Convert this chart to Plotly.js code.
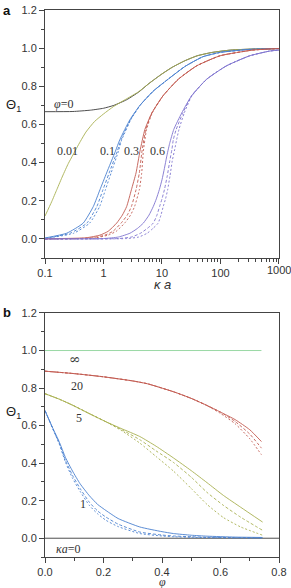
<!DOCTYPE html>
<html><head><meta charset="utf-8">
<script src="https://cdn.plot.ly/plotly-3.0.1.min.js"></script>
<style>body{margin:0;background:#fff}#c{width:291px;height:588px}</style>
</head><body><div id="c"></div>
<script>
// ---------- panel a : Theta_1 vs kappa a ----------
const kaPhi0 = [0.1,0.3,0.6,1,1.5,2.5,4,6,10,15,25,40,70,150,400,1000];
const thPhi0 = [0.667,0.668,0.675,0.685,0.70,0.73,0.77,0.815,0.865,0.90,0.935,0.96,0.977,0.99,0.996,0.998];

const kaPhi001 = [0.1,0.13,0.16,0.2,0.25,0.3,0.4,0.5,0.7,1,1.5,2.5,4,6,10,15,25,40,70,150,400,1000];
const thPhi001 = [0.12,0.195,0.26,0.33,0.395,0.44,0.51,0.56,0.615,0.655,0.695,0.735,0.772,0.815,0.865,0.90,0.935,0.96,0.977,0.99,0.996,0.998];

const kaPhi01 = [0.1,0.235,0.45,0.67,0.87,1.13,1.6,1.9,2.84,4.2,7.1,13.7,25,50,100,300,1000];
const thPhi01 = [0.005,0.03,0.083,0.17,0.258,0.346,0.46,0.52,0.626,0.70,0.775,0.845,0.905,0.955,0.978,0.993,0.998];
const kaPhi01d1 = [0.1,0.27,0.52,0.77,0.98,1.25,1.72,2.0,2.9,4.2,7.1,13.7,25,50,100,300,1000];
const thPhi01d1 = [0.003,0.03,0.083,0.17,0.258,0.346,0.46,0.52,0.626,0.70,0.775,0.845,0.905,0.955,0.978,0.993,0.998];
const kaPhi01d2 = [0.1,0.31,0.58,0.86,1.08,1.35,1.8,2.05,2.95,4.2,7.1,13.7,25,50,100,300,1000];
const thPhi01d2 = [0.002,0.03,0.083,0.17,0.258,0.346,0.46,0.52,0.626,0.70,0.775,0.845,0.905,0.955,0.978,0.993,0.998];

const kaPhi03 = [0.1,0.5,0.87,1.2,1.68,2.1,2.49,3.0,3.6,4.2,5.1,6.7,10.4,19,39,98,360,1000];
const thPhi03 = [0.001,0.006,0.02,0.04,0.083,0.125,0.17,0.258,0.346,0.46,0.574,0.66,0.75,0.837,0.907,0.96,0.99,0.998];
const kaPhi03d1 = [0.1,0.6,1.05,1.45,2.0,2.55,3.0,3.6,4.1,4.55,5.3,6.7,10.4,19,39,98,360,1000];
const thPhi03d1 = [0.0,0.005,0.02,0.04,0.083,0.125,0.17,0.258,0.346,0.46,0.574,0.66,0.75,0.837,0.907,0.96,0.99,0.998];
const kaPhi03d2 = [0.1,0.7,1.2,1.65,2.3,2.9,3.4,4.1,4.5,4.8,5.45,6.8,10.4,19,39,98,360,1000];
const thPhi03d2 = [0.0,0.005,0.02,0.04,0.083,0.125,0.17,0.258,0.346,0.46,0.574,0.66,0.75,0.837,0.907,0.96,0.99,0.998];

const kaPhi06 = [0.1,1,1.8,2.84,3.8,4.8,6,7.1,8,9,10,11,12,13.5,15.9,21.7,32,58,126,316,700,1000];
const thPhi06 = [0.0,0.002,0.01,0.03,0.055,0.083,0.125,0.17,0.21,0.258,0.31,0.37,0.43,0.50,0.574,0.66,0.75,0.837,0.907,0.96,0.985,0.99];
const kaPhi06d1 = [0.1,1.8,3,4.3,5.6,7.1,8.2,9.1,10,11,12.3,13.6,14.8,15.6,17.5,22.7,32,58,126,316,700,1000];
const thPhi06d1 = [0.0,0.002,0.01,0.03,0.055,0.083,0.125,0.17,0.21,0.258,0.33,0.41,0.47,0.52,0.574,0.66,0.75,0.837,0.907,0.96,0.985,0.99];
const kaPhi06d2 = [0.1,2.5,4,5.6,7,8.6,9.6,10.5,11.5,12.5,13.7,15,16.5,17.8,19.5,24,32.5,58,126,316,700,1000];
const thPhi06d2 = [0.0,0.002,0.01,0.03,0.055,0.083,0.125,0.17,0.21,0.258,0.33,0.41,0.47,0.52,0.574,0.66,0.75,0.837,0.907,0.96,0.985,0.99];

const kaTickVals = [0.1,1,10,100,1000];
const kaTickText = ['0.1','1','10','100','1000'];
const kaMinorVals = [0.2,0.3,0.4,0.5,0.6,0.7,0.8,0.9,2,3,4,5,6,7,8,9,20,30,40,50,60,70,80,90,200,300,400,500,600,700,800,900];

// ---------- panel b : Theta_1 vs phi ----------
const phiInf = [0,0.74];      const thInf = [1,1];
const phiKa0 = [0,0.8];       const thKa0 = [0,0];

const phiKa20 = [0,0.1,0.2,0.3,0.35,0.44,0.5,0.55,0.6,0.65,0.7,0.74];
const thKa20  = [0.89,0.877,0.86,0.838,0.823,0.78,0.745,0.71,0.672,0.632,0.578,0.515];
const thKa20d1 = [0.89,0.877,0.86,0.838,0.823,0.78,0.745,0.71,0.672,0.622,0.555,0.48];
const thKa20d2 = [0.89,0.877,0.86,0.838,0.823,0.78,0.745,0.71,0.665,0.61,0.53,0.445];

const phiKa5 = [0,0.05,0.094,0.15,0.209,0.26,0.324,0.38,0.439,0.5,0.554,0.61,0.669,0.744];
const thKa5   = [0.77,0.74,0.709,0.665,0.62,0.585,0.542,0.49,0.428,0.36,0.296,0.228,0.165,0.086];
const thKa5d1 = [0.77,0.74,0.709,0.665,0.62,0.58,0.525,0.465,0.404,0.325,0.244,0.175,0.112,0.042];
const thKa5d2 = [0.77,0.74,0.709,0.665,0.62,0.575,0.507,0.435,0.358,0.265,0.18,0.11,0.06,0.016];

const phiKa1 = [0,0.014,0.03,0.048,0.07,0.094,0.12,0.152,0.18,0.209,0.25,0.324,0.4,0.439,0.5,0.554,0.65,0.744];
const thKa1   = [0.68,0.63,0.575,0.516,0.43,0.358,0.29,0.226,0.18,0.147,0.105,0.06,0.035,0.025,0.016,0.011,0.006,0.004];
const thKa1d1 = [0.68,0.63,0.572,0.51,0.415,0.335,0.265,0.191,0.145,0.112,0.075,0.033,0.017,0.012,0.008,0.005,0.003,0.002];
const thKa1d2 = [0.68,0.63,0.57,0.505,0.405,0.32,0.25,0.174,0.13,0.095,0.062,0.025,0.012,0.008,0.005,0.003,0.002,0.001];

const cBlack='#3a3a3a', cOlive='#a8b050', cBlue='#4a80cf', cRed='#c25a50', cPurple='#7f74cf', cLight='#8fd49c';

function ln(x,y,color,dash,xa,ya){
  return {x:x,y:y,type:'scatter',mode:'lines',xaxis:xa,yaxis:ya,hoverinfo:'skip',
          line:{color:color,width:0.9,dash:dash||'solid',shape:'spline',smoothing:0.5}};
}
const D1='3px,2px', D2='2px,2px';
const traces = [
  ln(kaPhi0,thPhi0,cBlack,null,'x','y'),
  ln(kaPhi001,thPhi001,cOlive,null,'x','y'),
  ln(kaPhi01d1,thPhi01d1,cBlue,D1,'x','y'),
  ln(kaPhi01d2,thPhi01d2,cBlue,D2,'x','y'),
  ln(kaPhi01,thPhi01,cBlue,null,'x','y'),
  ln(kaPhi03d1,thPhi03d1,cRed,D1,'x','y'),
  ln(kaPhi03d2,thPhi03d2,cRed,D2,'x','y'),
  ln(kaPhi03,thPhi03,cRed,null,'x','y'),
  ln(kaPhi06d1,thPhi06d1,cPurple,D1,'x','y'),
  ln(kaPhi06d2,thPhi06d2,cPurple,D2,'x','y'),
  ln(kaPhi06,thPhi06,cPurple,null,'x','y'),

  ln(phiInf,thInf,cLight,null,'x2','y2'),
  ln(phiKa0,thKa0,cBlack,null,'x2','y2'),
  ln(phiKa20,thKa20d1,cRed,D1,'x2','y2'),
  ln(phiKa20,thKa20d2,cRed,D2,'x2','y2'),
  ln(phiKa20,thKa20,cRed,null,'x2','y2'),
  ln(phiKa5,thKa5d1,cOlive,D1,'x2','y2'),
  ln(phiKa5,thKa5d2,cOlive,D2,'x2','y2'),
  ln(phiKa5,thKa5,cOlive,null,'x2','y2'),
  ln(phiKa1,thKa1d1,cBlue,D1,'x2','y2'),
  ln(phiKa1,thKa1d2,cBlue,D2,'x2','y2'),
  ln(phiKa1,thKa1,cBlue,null,'x2','y2')
];

const tickFont = {family:'Liberation Sans, Arial, sans-serif', size:11, color:'#333'};
const axLine = {showline:true, linecolor:'#444', linewidth:1, mirror:true, zeroline:false, showgrid:false};
const yCommon = Object.assign({}, axLine, {range:[-0.1,1.2], tickvals:[0,0.2,0.4,0.6,0.8,1.0,1.2], tickformat:'.1f',
  ticks:'outside', ticklen:5, tickcolor:'#444', tickfont:tickFont,
  minor:{ticks:'outside', ticklen:3, tickcolor:'#444', tickvals:[-0.1,0.1,0.3,0.5,0.7,0.9,1.1]}});
const yMirror = {range:[-0.1,1.2], side:'right', ticks:'inside', ticklen:5, tickcolor:'#444', showticklabels:false,
  tickvals:[0,0.2,0.4,0.6,0.8,1.0,1.2], showgrid:false, zeroline:false, showline:false,
  minor:{ticks:'inside', ticklen:3, tickcolor:'#444', tickvals:[-0.1,0.1,0.3,0.5,0.7,0.9,1.1]}};

const topDom = [0.5466,1], botDom = [0,0.4461];
const logRange = [-1, 3.0002];
const layout = {
  width:291, height:588, showlegend:false,
  paper_bgcolor:'#fff', plot_bgcolor:'#fff',
  margin:{l:45, r:12, t:10, b:31},
  xaxis: Object.assign({}, axLine, {type:'log', range:logRange, anchor:'y', domain:[0,1],
    tickvals:kaTickVals, ticktext:kaTickText, ticks:'outside', ticklen:5, tickcolor:'#444', tickfont:tickFont,
    minor:{ticks:'outside', ticklen:3, tickcolor:'#444', tickvals:kaMinorVals}}),
  yaxis: Object.assign({}, yCommon, {domain:topDom, anchor:'x'}),
  xaxis3: {type:'log', range:logRange, overlaying:'x', anchor:'y', side:'top', ticks:'inside', ticklen:5, tickcolor:'#444',
    tickvals:kaTickVals, showticklabels:false, showgrid:false, zeroline:false, showline:false,
    minor:{ticks:'inside', ticklen:3, tickcolor:'#444', tickvals:kaMinorVals}},
  yaxis3: Object.assign({}, yMirror, {overlaying:'y', anchor:'x'}),

  xaxis2: Object.assign({}, axLine, {range:[0,0.8], anchor:'y2', domain:[0,1],
    tickvals:[0,0.2,0.4,0.6,0.8], tickformat:'.1f', ticks:'outside', ticklen:5, tickcolor:'#444', tickfont:tickFont,
    minor:{ticks:'outside', ticklen:3, tickcolor:'#444', tickvals:[0.1,0.3,0.5,0.7]}}),
  yaxis2: Object.assign({}, yCommon, {domain:botDom, anchor:'x2'}),
  xaxis4: {range:[0,0.8], overlaying:'x2', anchor:'y2', side:'top', ticks:'inside', ticklen:5, tickcolor:'#444',
    tickvals:[0,0.2,0.4,0.6,0.8], showticklabels:false, showgrid:false, zeroline:false, showline:false,
    minor:{ticks:'inside', ticklen:3, tickcolor:'#444', tickvals:[0.1,0.3,0.5,0.7]}},
  yaxis4: Object.assign({}, yMirror, {overlaying:'y2', anchor:'x2'}),

  annotations: []
};
const serif = {family:'Liberation Serif, Times New Roman, serif', size:12, color:'#333'};
const sans = {family:'Liberation Sans, Arial, sans-serif', size:13, color:'#222'};
function ann(text, x, y, xref, yref, font, xanchor){
  layout.annotations.push({text:text, x:x, y:y, xref:xref, yref:yref, showarrow:false, font:font,
    xanchor:xanchor||'left', yanchor:'middle'});
}
// panel letters, axis titles (paper coordinates)
ann('<b>a</b>', -0.19, 1.0, 'paper','paper', {family:'Liberation Sans, Arial, sans-serif', size:13, color:'#111'});
ann('<b>b</b>', -0.19, 0.4461, 'paper','paper', {family:'Liberation Sans, Arial, sans-serif', size:13, color:'#111'});
ann('Θ<sub>1</sub>', -0.175, 0.826, 'paper','paper', sans);
ann('Θ<sub>1</sub>', -0.175, 0.265, 'paper','paper', sans);
ann('<i>κ a</i>', 0.5, 0.4985, 'paper','paper', {family:'Liberation Sans, Arial, sans-serif', size:13, color:'#333'}, 'center');
ann('<i>φ</i>', 0.5, -0.045, 'paper','paper', {family:'Liberation Serif, serif', size:12, color:'#333'}, 'center');
// end tick label of the log axis (Plotly drops it at the range edge)
layout.annotations.push({text:'1000', x:3, y:0.5246, xref:'x', yref:'paper', showarrow:false,
  font:tickFont, xanchor:'center', yanchor:'middle'});
// curve labels panel a (x in log10 units for the log axis)
ann('<i>φ</i>=0', Math.log10(0.132), 0.705, 'x','y', serif);
ann('0.01', Math.log10(0.148), 0.46, 'x','y', serif);
ann('0.1', Math.log10(0.805), 0.46, 'x','y', serif);
ann('0.3', Math.log10(2.07), 0.46, 'x','y', serif);
ann('0.6', Math.log10(5.75), 0.46, 'x','y', serif);
// curve labels panel b
ann('∞', 0.075, 0.955, 'x2','y2', {family:'DejaVu Serif, serif', size:14, color:'#333'});
ann('20', 0.083, 0.81, 'x2','y2', serif);
ann('5', 0.1, 0.64, 'x2','y2', serif);
ann('1', 0.113, 0.185, 'x2','y2', serif);
ann('<i>κa</i>=0', 0.03, -0.055, 'x2','y2', serif);

Plotly.newPlot('c', traces, layout, {staticPlot:true, displayModeBar:false});
</script></body></html>
